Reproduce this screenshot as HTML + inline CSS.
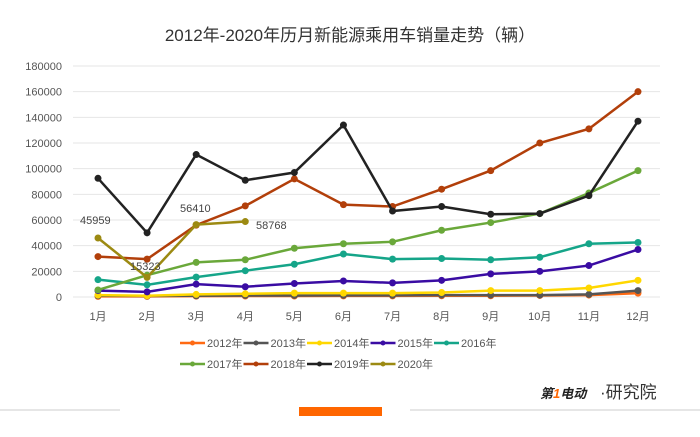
<!DOCTYPE html>
<html><head><meta charset="utf-8"><style>
body{margin:0;background:#fff;}
svg{display:block;font-family:"Liberation Sans","Noto Sans CJK SC",sans-serif;}
</style></head><body>
<svg id="s" width="700" height="437" viewBox="0 0 700 437">
<text x="350" y="41" text-anchor="middle" font-size="17" fill="#333">2012年-2020年历月新能源乘用车销量走势（辆）</text>
<g id="g"></g>
<line x1="0" y1="410" x2="120" y2="410" stroke="#ddd" stroke-width="1.5"/>
<line x1="410" y1="410" x2="700" y2="410" stroke="#ddd" stroke-width="1.5"/>
<rect x="299" y="407" width="83" height="9" fill="#ff6600"/>
<text x="600" y="398" font-size="17" fill="#333">·研究院</text>
<text x="540" y="398" font-size="13" font-style="italic" font-weight="bold" fill="#222">第<tspan fill="#f60">1</tspan>电动</text>
</svg>
<script>
var g=document.getElementById('g'),h='';
function Y(v){return 297-v*1.2833;}
function X(i){return 98+i*49.09;}
for(var k=0;k<=9;k++){var y=Y(k*20);h+='<line x1="73" x2="660" y1="'+y+'" y2="'+y+'" stroke="#e6e6e6"/>';
h+='<text x="62" y="'+(y+4)+'" text-anchor="end" font-size="11" fill="#555">'+(k*20000)+'</text>';}
for(var i=0;i<12;i++)h+='<text x="'+X(i)+'" y="320" text-anchor="middle" font-size="11" fill="#555">'+(i+1)+'月</text>';
var S=[
['#ff6a13',[0.5,0.5,0.7,0.8,0.8,0.9,0.9,1,1,1.2,1.5,3]],
['#555',[1,0.8,1,1.2,1.2,1.3,1.3,1.5,1.5,1.5,2,5]],
['#ffd700',[1.5,1,2,2.5,3,3,3,3.5,5,5,7,13]],
['#3a0ca3',[5,4,10,8,10.5,12.5,11,13,18,20,24.5,37]],
['#15a589',[13.5,9.5,15.5,20.5,25.5,33.5,29.5,30,29,31,41.5,42.5]],
['#6aa83a',[5.5,17,27,29,38,41.5,43,52,58,65,81,98.5]],
['#b23f0a',[31.5,29.5,56,71,92,72,70.5,84,98.5,120,131,160]],
['#222',[92.5,50,111,91,97,134,67,70.5,64.5,65,79,137]],
['#9c8a12',[46,15.3,56.4,58.8]]];
S.forEach(function(s){var p=s[1].map(function(v,i){return X(i)+','+Y(v)}).join(' ');
h+='<polyline points="'+p+'" fill="none" stroke="'+s[0]+'" stroke-width="2.5"/>';
s[1].forEach(function(v,i){h+='<circle cx="'+X(i)+'" cy="'+Y(v)+'" r="3.5" fill="'+s[0]+'"/>';});});
[['45959',80,224],['15323',130,270],['56410',180,212],['58768',256,229]].forEach(function(t){h+='<text x="'+t[1]+'" y="'+t[2]+'" font-size="11" fill="#444">'+t[0]+'</text>';});
var L=['2012年','2013年','2014年','2015年','2016年','2017年','2018年','2019年','2020年'];
for(var j=0;j<9;j++){var r=j<5?0:1,c=j<5?j:j-5,x=180+c*63.5,y=r?364:343;
h+='<line x1="'+x+'" x2="'+(x+25)+'" y1="'+y+'" y2="'+y+'" stroke="'+S[j][0]+'" stroke-width="2.5"/><circle cx="'+(x+12.5)+'" cy="'+y+'" r="2.5" fill="'+S[j][0]+'"/>';
h+='<text x="'+(x+27)+'" y="'+(y+4)+'" font-size="11" fill="#555">'+L[j]+'</text>';}
g.innerHTML=h;
</script>
</body></html>
